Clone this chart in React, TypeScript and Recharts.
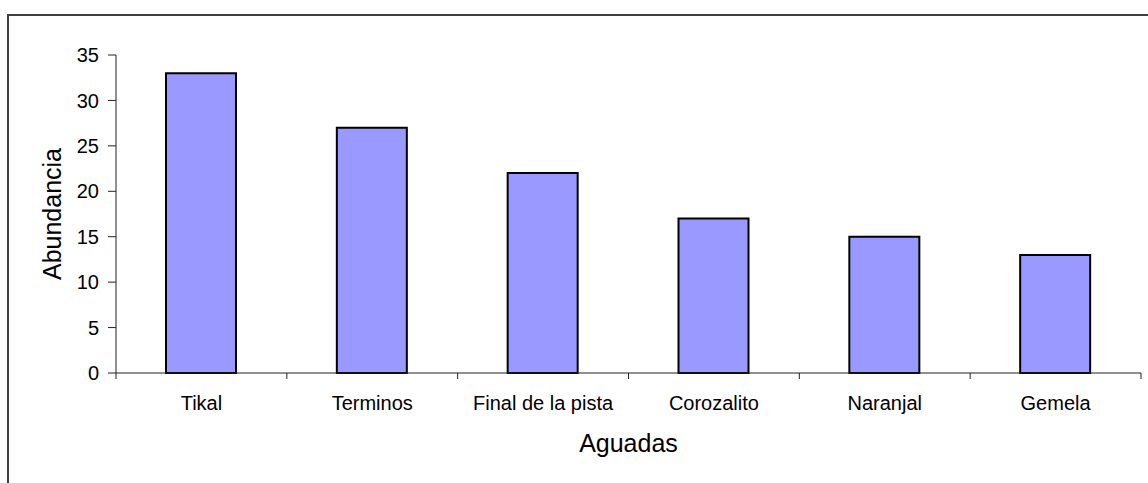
import React from 'react';
import { BarChart, Bar, XAxis, YAxis } from 'recharts';

// Abundance per waterhole (aguada)
const aguadas = ['Tikal', 'Terminos', 'Final de la pista', 'Corozalito', 'Naranjal', 'Gemela'];
const abundancia = [33, 27, 22, 17, 15, 13];
const yTicks = [0, 5, 10, 15, 20, 25, 30, 35];

const data = aguadas.map((name, i) => ({ name, value: abundancia[i] }));

const FONT = '"Liberation Sans", Arial, Helvetica, sans-serif';
const AXIS = '#222';

// Category label plus tick marks on the category boundaries
const CategoryTick = (props: any) => {
  const { x, y, payload, index, width } = props;
  const half =
    payload && typeof payload.offset === 'number' && payload.offset > 0
      ? payload.offset
      : width / aguadas.length / 2;
  const axisY = y - 23;
  const left = x - half;
  const right = x + half;
  return (
    <g>
      <line x1={left} y1={axisY} x2={left} y2={axisY + 6} stroke={AXIS} />
      {index === aguadas.length - 1 && (
        <line x1={right} y1={axisY} x2={right} y2={axisY + 6} stroke={AXIS} />
      )}
      <text
        x={x}
        y={y}
        dy="0.71em"
        textAnchor="middle"
        fontSize={20}
        fontFamily={FONT}
        fill="#000"
      >
        {payload.value}
      </text>
    </g>
  );
};

export default function App() {
  return (
    <div
      style={{
        position: 'absolute',
        left: 0,
        top: 0,
        width: 1148,
        height: 483,
        overflow: 'hidden',
        background: '#fff',
        fontFamily: FONT,
      }}
    >
      {/* chart frame, running past the right and bottom edges */}
      <div
        style={{
          position: 'absolute',
          left: 7,
          top: 14,
          width: 1300,
          height: 700,
          border: '2px solid #404040',
          boxSizing: 'border-box',
        }}
      />
      <div style={{ position: 'absolute', left: 0, top: 0 }}>
        <BarChart
          width={1148}
          height={483}
          data={data}
          margin={{ top: 55, right: 7, bottom: 50, left: 0 }}
          barSize={70}
        >
          <XAxis
            dataKey="name"
            height={60}
            axisLine={{ stroke: AXIS }}
            tickLine={false}
            tickSize={6}
            tickMargin={17}
            interval={0}
            tick={<CategoryTick />}
            label={{
              content: (props: any) => {
                const vb = props.viewBox;
                return (
                  <text
                    x={vb.x + vb.width / 2}
                    y={452}
                    textAnchor="middle"
                    fontSize={25}
                    fontFamily={FONT}
                    fill="#000"
                  >
                    Aguadas
                  </text>
                );
              },
            }}
          />
          <YAxis
            width={116}
            domain={[0, 35]}
            ticks={yTicks}
            interval={0}
            axisLine={{ stroke: AXIS }}
            tickLine={{ stroke: AXIS }}
            tickSize={8}
            tickMargin={9}
            tick={{ fill: '#000', fontSize: 20, fontFamily: FONT }}
            label={{
              content: (props: any) => {
                const vb = props.viewBox;
                const cx = 52;
                const cy = vb.y + vb.height / 2;
                return (
                  <text
                    x={cx}
                    y={cy}
                    textAnchor="middle"
                    dominantBaseline="central"
                    transform={`rotate(-90, ${cx}, ${cy})`}
                    fontSize={25}
                    fontFamily={FONT}
                    fill="#000"
                  >
                    Abundancia
                  </text>
                );
              },
            }}
          />
          <Bar
            dataKey="value"
            fill="#9999FF"
            stroke="#000"
            strokeWidth={2}
            isAnimationActive={false}
          />
        </BarChart>
      </div>
    </div>
  );
}
